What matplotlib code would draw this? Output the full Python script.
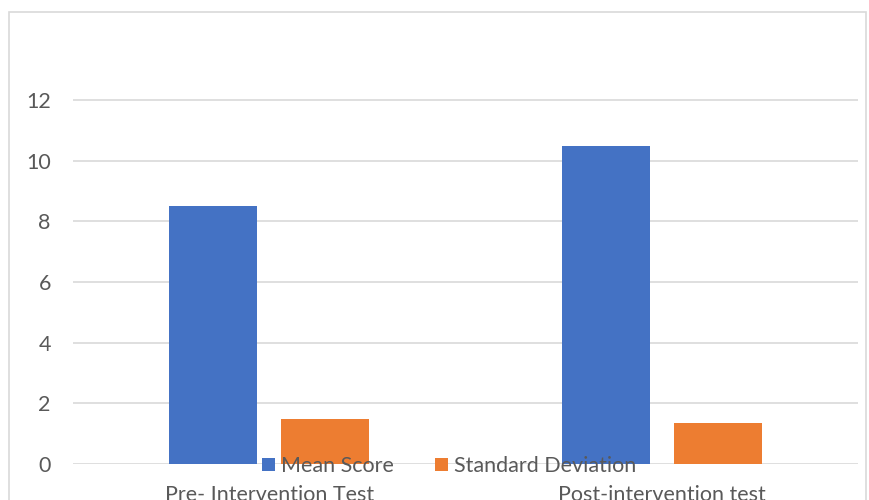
import matplotlib
matplotlib.use("Agg")
import matplotlib.pyplot as plt
import matplotlib.patches as patches
import numpy as np

# data
categories = ["Pre- Intervention Test", "Post-intervention test"]
mean_score = [8.5, 10.5]
std_dev = [1.5, 1.35]
series_names = ["Mean Score", "Standard Deviation"]

plt.rcParams['font.family'] = ['Lato', 'DejaVu Sans']

fig = plt.figure(figsize=(8.69, 5.0), dpi=100)
ax = fig.add_axes([73 / 869, 1 - 464 / 500, 785 / 869, (464 - 39.4) / 500])

# chart border
border = patches.Rectangle((9 / 869, -0.1), 857 / 869, 1.1 - 12 / 500,
                           transform=fig.transFigure, fill=False,
                           edgecolor='#d9d9d9', linewidth=1.2)
fig.patches.append(border)

x = np.arange(len(categories))
width = 0.224
offset = 0.143
ax.bar(x - offset, mean_score, width, color='#4472c4', label=series_names[0], zorder=3)
ax.bar(x + offset, std_dev, width, color='#ed7d31', label=series_names[1], zorder=3)

ax.set_xlim(-0.5, 1.5)
ax.set_ylim(0, 14)
ax.set_yticks(range(0, 13, 2))
ax.yaxis.grid(True, color='#d9d9d9', linewidth=1.2, zorder=0)
ax.set_xticks(x)
ax.set_xticklabels(categories)
for s in ax.spines.values():
    s.set_visible(False)
ax.tick_params(axis='both', length=0, colors='#595959', labelsize=15.5)
ax.tick_params(axis='y', pad=16)
ax.tick_params(axis='x', pad=15)

fig.legend(loc='center', bbox_to_anchor=(449 / 869, 1 - 466 / 500), ncol=2,
           frameon=False, fontsize=15.5, handlelength=0.6, handleheight=0.6,
           handletextpad=0.3, columnspacing=1.9, labelcolor='#595959',
           borderaxespad=0, borderpad=0)

fig.savefig('out.png', dpi=100)
